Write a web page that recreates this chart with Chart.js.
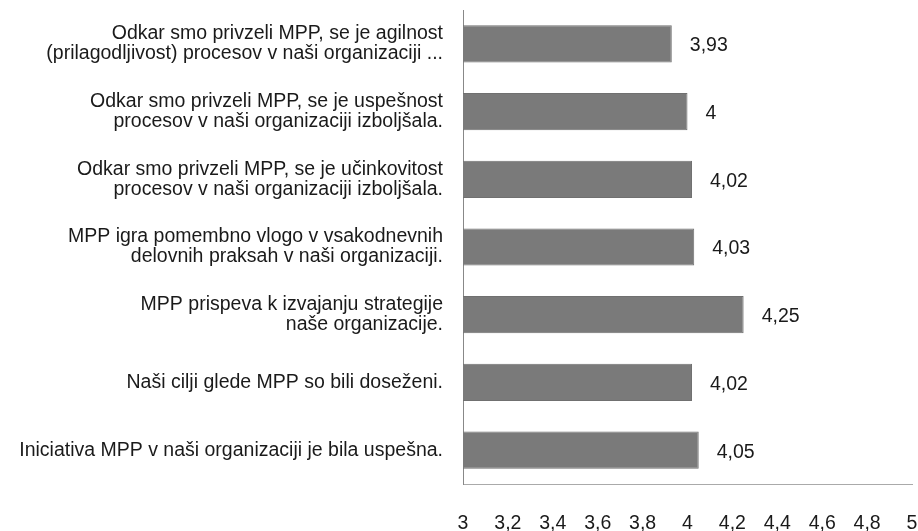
<!DOCTYPE html>
<html>
<head>
<meta charset="utf-8">
<script src="https://cdn.jsdelivr.net/npm/chart.js@4/dist/chart.umd.min.js"></script>
<style>
  html, body { margin: 0; padding: 0; background: #fff; }
  #wrap { width: 918px; height: 531px; }
</style>
</head>
<body>
<div id="wrap"><canvas id="myChart" width="918" height="531"></canvas></div>
<script>
var categories = [
  ["Odkar smo privzeli MPP, se je agilnost", "(prilagodljivost) procesov v naši organizaciji ..."],
  ["Odkar smo privzeli MPP, se je uspešnost", "procesov v naši organizaciji izboljšala."],
  ["Odkar smo privzeli MPP, se je učinkovitost", "procesov v naši organizaciji izboljšala."],
  ["MPP igra pomembno vlogo v vsakodnevnih", "delovnih praksah v naši organizaciji."],
  ["MPP prispeva k izvajanju strategije", "naše organizacije."],
  "Naši cilji glede MPP so bili doseženi.",
  "Iniciativa MPP v naši organizaciji je bila uspešna."
];
var values = [3.93, 4, 4.02, 4.03, 4.25, 4.02, 4.05];
var axisMin = 3, axisMax = 5, axisStep = 0.2;

var FONT = '"Liberation Sans", Arial, sans-serif';
var FSIZE = 19.5;

function comma(v) {
  return String(Math.round(v * 100) / 100).replace('.', ',');
}

var valueLabels = {
  id: 'valueLabels',
  afterDatasetsDraw: function(chart) {
    var ctx = chart.ctx;
    var meta = chart.getDatasetMeta(0);
    ctx.save();
    ctx.font = FSIZE + 'px ' + FONT;
    ctx.fillStyle = '#1a1a1a';
    ctx.textAlign = 'left';
    ctx.textBaseline = 'middle';
    meta.data.forEach(function(bar, i) {
      ctx.fillText(comma(values[i]), bar.x + 18, bar.y + 2);
    });
    ctx.restore();
  }
};

var ctx = document.getElementById("myChart").getContext("2d");
new Chart(ctx, {
  type: 'bar',
  data: {
    labels: categories,
    datasets: [{
      data: values,
      backgroundColor: '#7a7a7a',
      borderColor: '#707070',
      borderWidth: 1,
      categoryPercentage: 1,
      barPercentage: 0.55
    }]
  },
  options: {
    indexAxis: 'y',
    responsive: false,
    animation: false,
    layout: { padding: { top: 10, right: 0, left: 0, bottom: 0 } },
    plugins: { legend: { display: false }, tooltip: { enabled: false } },
    scales: {
      x: {
        min: axisMin,
        max: axisMax,
        grid: { display: true, drawOnChartArea: false, drawTicks: false },
        border: { color: '#aaaaaa', width: 1 },
        ticks: {
          stepSize: axisStep,
          padding: 28,
          maxRotation: 0,
          autoSkip: false,
          color: '#1a1a1a',
          font: { family: FONT, size: FSIZE },
          callback: function(v) { return comma(v); }
        },
        afterFit: function(scale) {
          scale.height = 47;
          scale.paddingLeft = 0;
          scale.paddingRight = 6;
        }
      },
      y: {
        grid: { display: true, drawOnChartArea: false, drawTicks: false },
        border: { color: '#888888', width: 1 },
        ticks: {
          padding: 20,
          color: '#1a1a1a',
          font: { family: FONT, size: FSIZE, lineHeight: '20px' }
        },
        afterFit: function(scale) {
          scale.width = 463;
          scale.paddingTop = 0;
          scale.paddingBottom = 0;
        }
      }
    }
  },
  plugins: [valueLabels]
});
</script>
</body>
</html>
